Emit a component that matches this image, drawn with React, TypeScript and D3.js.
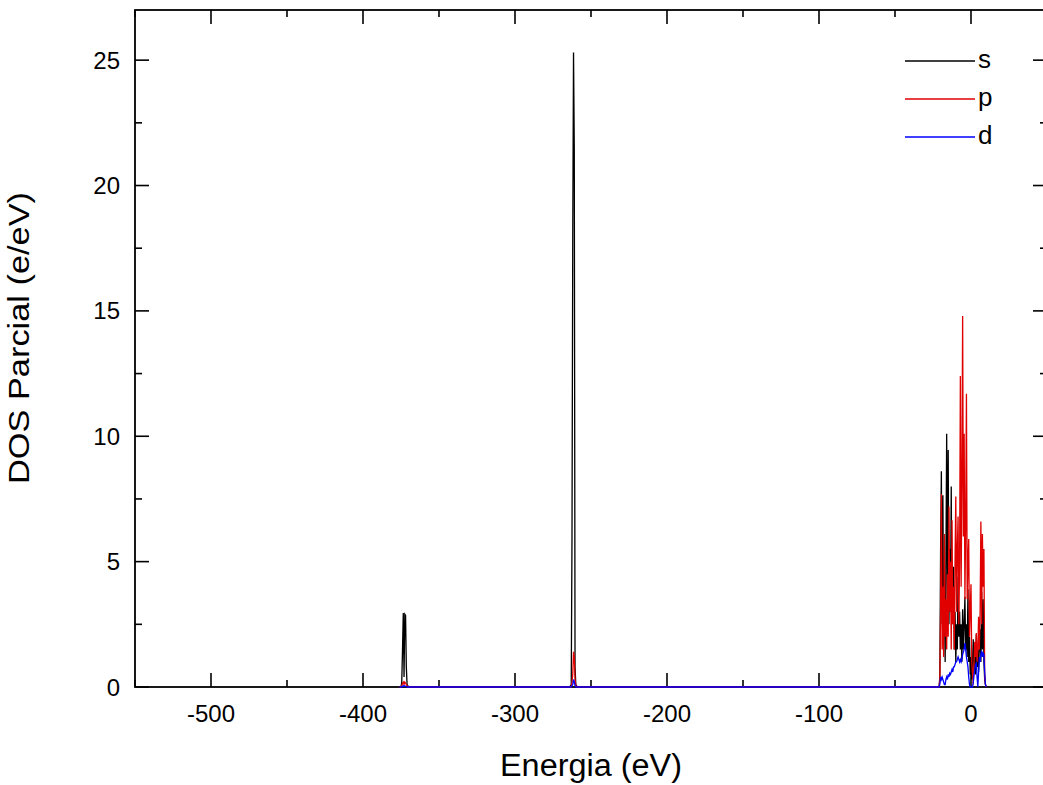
import React from "react";
import * as d3 from "d3";

// Energy grid (eV)
const energy: number[] = [
  -376, -375, -374.5, -374, -373.5, -373, -372.5, -372, -371.5, -371, -370,
  -300,
  -264, -263, -262.5, -262, -261.5, -261, -260.5, -260, -259,
  -100, -25,
  -21, -20.5, -20, -19.5, -19, -18.5, -18, -17.5, -17, -16.5, -16, -15.5, -15, -14.5, -14,
  -13.5, -13, -12.5, -12, -11.5, -11, -10.5, -10, -9.5, -9, -8.5, -8, -7.5, -7, -6.5, -6,
  -5.5, -5, -4.5, -4, -3.5, -3, -2.5, -2, -1.5, -1, -0.5, 0, 0.5, 1, 1.5, 2, 2.5, 3, 3.5,
  4, 4.5, 5, 5.5, 6, 6.5, 7, 7.5, 8, 8.5, 9, 9.5, 10,
];

const sDos: number[] = [
  0, 0, 0.2, 1.5, 2.95, 0.4, 2.9, 2.85, 0.8, 0.1, 0,
  0,
  0, 0.1, 6.0, 18.0, 25.3, 21.5, 0.8, 0.1, 0,
  0, 0,
  0, 0.4, 5.5, 8.6, 2.5, 7.65, 2.0, 3.5, 1.0, 5.0, 10.1, 3.0, 9.45, 2.5, 5.5,
  3.0, 8.0, 2.5, 3.5, 4.8, 1.5, 3.0, 1.0, 2.5, 1.5, 4.4, 2.0, 3.0, 1.5, 2.5, 1.0,
  3.1, 1.5, 2.5, 3.6, 1.5, 2.5, 1.2, 3.9, 1.0, 2.0, 0.5, 1.2, 0.3, 1.0, 1.9, 0.6, 1.2, 0.5, 2.1,
  0.8, 1.5, 0.6, 1.6, 2.3, 1.0, 3.8, 1.5, 3.5, 1.0, 0.3, 0.1, 0,
];

const pDos: number[] = [
  0, 0, 0.05, 0.15, 0.2, 0.1, 0.2, 0.15, 0.1, 0.05, 0,
  0,
  0, 0, 0.2, 0.5, 1.4, 1.2, 0.3, 0.05, 0,
  0, 0,
  0, 0.3, 3.0, 7.7, 1.5, 4.0, 1.2, 6.1, 2.0, 3.5, 1.5, 4.5, 2.0, 7.2, 3.0,
  5.0, 1.5, 6.65, 2.5, 4.0, 1.5, 5.0, 7.6, 3.0, 5.5, 6.8, 2.5, 5.0, 12.4, 4.0, 8.0,
  14.8, 6.0, 10.1, 3.5, 6.5, 11.7, 3.5, 5.0, 5.9, 2.0, 3.0, 4.1, 1.0, 0.5, 0.1, 1.0, 1.8, 1.2, 2.15,
  1.0, 1.5, 2.8, 1.5, 3.0, 6.6, 2.5, 6.1, 4.0, 5.5, 0.5, 0.1, 0,
];

const dDos: number[] = [
  0, 0, 0, 0.02, 0.05, 0.02, 0.05, 0.03, 0.02, 0, 0,
  0,
  0, 0, 0.05, 0.1, 0.3, 0.2, 0.05, 0, 0,
  0, 0,
  0, 0.1, 0.4, 0.3, 0.4, 0.3, 0.2, 0.1, 0.1, 0.3, 0.4, 0.3, 0.5, 0.4, 0.55,
  0.5, 0.6, 0.7, 0.6, 0.8, 0.8, 0.9, 1.0, 1.0, 1.1, 1.2, 1.1, 1.0, 1.1, 1.0, 1.1,
  1.3, 1.4, 1.5, 1.75, 1.5, 1.2, 1.0, 0.8, 0.4, 0.1, 0, 0, 0, 0, 0.2, 0.5, 0.7, 0.9, 0.95,
  0.4, 0, 0.6, 1.2, 1.0, 1.3, 1.45, 1.2, 1.35, 1.3, 0.6, 0.1, 0,
];

const seriesNames = ["s", "p", "d"];
const seriesColors = ["#000000", "#e00000", "#0000ff"];
const seriesValues = [sDos, pDos, dDos];

const xTicks = [-500, -400, -300, -200, -100, 0];
const xMinor = [-550, -450, -350, -250, -150, -50, 50];
const yTicks = [0, 5, 10, 15, 20, 25];
const yMinor = [2.5, 7.5, 12.5, 17.5, 22.5];

const W = 1043;
const H = 785;
const left = 135;
const right = 1047;
const top = 10;
const bottom = 687;
const FONT = "'Liberation Sans', Arial, Helvetica, sans-serif";

export default function App() {
  const x = d3.scaleLinear().domain([-550, 50]).range([left, right]);
  const y = d3.scaleLinear().domain([0, 27]).range([bottom, top]);
  const line = d3
    .line<[number, number]>()
    .x((d) => x(d[0]))
    .y((d) => y(d[1]));

  const major = 14;
  const minor = 7;

  return (
    <svg
      width={W}
      height={H}
      style={{ position: "fixed", left: 0, top: 0, background: "#fff" }}
      fontFamily={FONT}
    >
      <rect x={0} y={0} width={W} height={H} fill="#fff" />
      {/* frame */}
      <rect
        x={left}
        y={top}
        width={right - left}
        height={bottom - top}
        fill="none"
        stroke="#000"
        strokeWidth={1.8}
      />
      {/* x ticks bottom & top */}
      {xTicks.map((t) => (
        <g key={"xt" + t}>
          <line x1={x(t)} x2={x(t)} y1={bottom} y2={bottom - major} stroke="#000" strokeWidth={1.6} />
          <line x1={x(t)} x2={x(t)} y1={top} y2={top + major} stroke="#000" strokeWidth={1.6} />
          <text x={x(t)} y={722} textAnchor="middle" fontSize={24} fill="#000">
            {t}
          </text>
        </g>
      ))}
      {xMinor.map((t) => (
        <g key={"xm" + t}>
          <line x1={x(t)} x2={x(t)} y1={bottom} y2={bottom - minor} stroke="#000" strokeWidth={1.6} />
          <line x1={x(t)} x2={x(t)} y1={top} y2={top + minor} stroke="#000" strokeWidth={1.6} />
        </g>
      ))}
      {/* y ticks left & right */}
      {yTicks.map((t) => (
        <g key={"yt" + t}>
          <line x1={left} x2={left + major} y1={y(t)} y2={y(t)} stroke="#000" strokeWidth={1.6} />
          <line x1={right} x2={right - major} y1={y(t)} y2={y(t)} stroke="#000" strokeWidth={1.6} />
          <text x={120} y={y(t) + 8.5} textAnchor="end" fontSize={24} fill="#000">
            {t}
          </text>
        </g>
      ))}
      {yMinor.map((t) => (
        <g key={"ym" + t}>
          <line x1={left} x2={left + minor} y1={y(t)} y2={y(t)} stroke="#000" strokeWidth={1.6} />
          <line x1={right} x2={right - minor} y1={y(t)} y2={y(t)} stroke="#000" strokeWidth={1.6} />
        </g>
      ))}
      {/* series */}
      {seriesValues.map((vals, i) => (
        <path
          key={seriesNames[i]}
          d={line(energy.map((e, k) => [e, vals[k]] as [number, number])) || ""}
          fill="none"
          stroke={seriesColors[i]}
          strokeWidth={1.3}
          strokeLinejoin="miter"
        />
      ))}
      {/* axis titles */}
      <text
        x={591}
        y={776}
        textAnchor="middle"
        fontSize={31}
        fill="#000"
        textLength={182}
        lengthAdjust="spacingAndGlyphs"
      >
        Energia (eV)
      </text>
      <text
        transform={`translate(29,338) rotate(-90)`}
        textAnchor="middle"
        fontSize={30}
        fill="#000"
        textLength={292}
        lengthAdjust="spacingAndGlyphs"
      >
        DOS Parcial (e/eV)
      </text>
      {/* legend */}
      {seriesNames.map((n, i) => {
        const ly = 61 + i * 38;
        return (
          <g key={"lg" + n}>
            <line x1={905} x2={975} y1={ly} y2={ly} stroke={seriesColors[i]} strokeWidth={1.5} />
            <text x={978} y={ly + 7} fontSize={26} fill="#000">
              {n}
            </text>
          </g>
        );
      })}
    </svg>
  );
}
